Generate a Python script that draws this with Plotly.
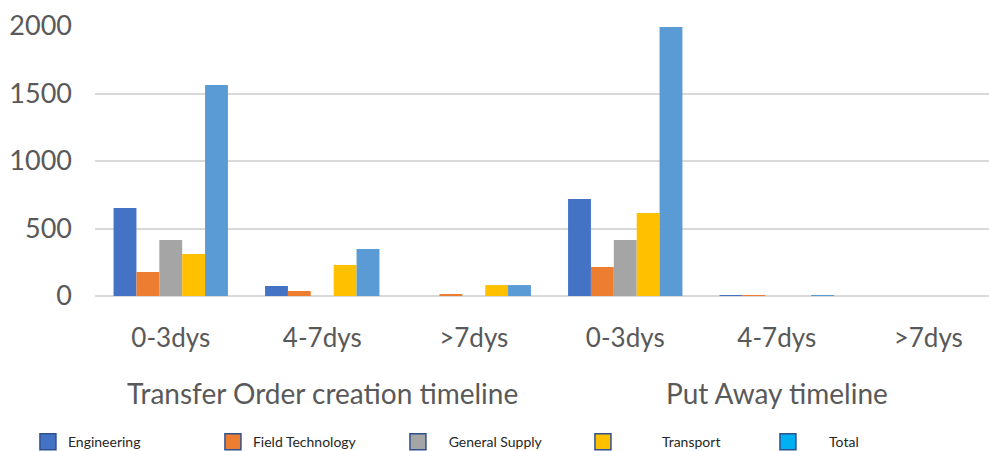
import plotly.graph_objects as go

# Day-range buckets, repeated for the two timelines
buckets = ["0-3dys", "4-7dys", ">7dys", "0-3dys", "4-7dys", ">7dys"]
timelines = ["Transfer Order creation timeline", "Put Away timeline"]

engineering = [652, 74, 0, 718, 6, 0]
field_technology = [178, 37, 10, 215, 6, 0]
general_supply = [415, 0, 0, 415, 0, 0]
transport = [311, 230, 81, 615, 0, 0]
total = [1563, 348, 81, 1993, 5, 0]

series = [
    ("Engineering", engineering, "#4472C4", "#4472C4"),
    ("Field Technology", field_technology, "#ED7D31", "#ED7D31"),
    ("General Supply", general_supply, "#A5A5A5", "#A5A5A5"),
    ("Transport", transport, "#FFC000", "#FFC000"),
    ("Total", total, "#5B9BD5", "#00B0F0"),
]

# legend labels padded so the text sits where the key spacing puts it
legend_pad = {"Engineering": 0, "Field Technology": 0, "General Supply": 3,
              "Transport": 11, "Total": 6}

x_pos = list(range(len(buckets)))
FONT = "Lato, 'Open Sans', sans-serif"

fig = go.Figure()
for name, vals, bar_col, key_col in series:
    fig.add_trace(go.Bar(
        x=x_pos, y=vals, name=name, marker_color=bar_col,
        marker_line_width=0, showlegend=False, legendgroup=name,
    ))
# legend keys: square swatches with a dark outline
for name, vals, bar_col, key_col in series:
    fig.add_trace(go.Scatter(
        x=[None], y=[None], mode="markers", legendgroup=name,
        name="\u00a0" * legend_pad[name] + name,
        marker=dict(symbol="square", size=16, color=key_col,
                    line=dict(color="#2F528F", width=1.5)),
        showlegend=True,
    ))

# timeline titles centred under their three buckets
for i, label in enumerate(timelines):
    fig.add_annotation(
        x=3 * i + 1, y=0, xref="x", yref="paper", yshift=-97,
        text=label, showarrow=False, yanchor="middle",
        font=dict(family=FONT, size=28, color="#595959"),
    )

fig.update_layout(
    width=989, height=451,
    margin=dict(l=95, r=0, t=26, b=155, autoexpand=False),
    paper_bgcolor="white", plot_bgcolor="white",
    barmode="group", bargap=0.245, bargroupgap=0,
    font=dict(family=FONT, color="#595959"),
    legend=dict(
        orientation="h", x=-0.075, xanchor="left",
        y=-0.541, yanchor="middle",
        entrywidth=140, entrywidthmode="pixels",
        font=dict(family=FONT, size=14, color="#262626"),
        itemsizing="trace",
    ),
)
fig.update_xaxes(
    tickmode="array", tickvals=x_pos, ticktext=buckets,
    range=[-0.5, 5.401], showgrid=False, zeroline=False,
    showline=False, ticks="", ticklabelstandoff=24,
    tickfont=dict(family=FONT, size=26, color="#595959"),
)
fig.update_yaxes(
    range=[0, 2000], tickvals=[0, 500, 1000, 1500, 2000],
    showgrid=True, gridcolor="#D9D9D9", gridwidth=1.5,
    zeroline=True, zerolinecolor="#D9D9D9", zerolinewidth=1.5,
    showline=False, ticks="", ticklabelstandoff=22,
    tickfont=dict(family=FONT, size=27, color="#595959"),
)

fig.write_html("out.html")
